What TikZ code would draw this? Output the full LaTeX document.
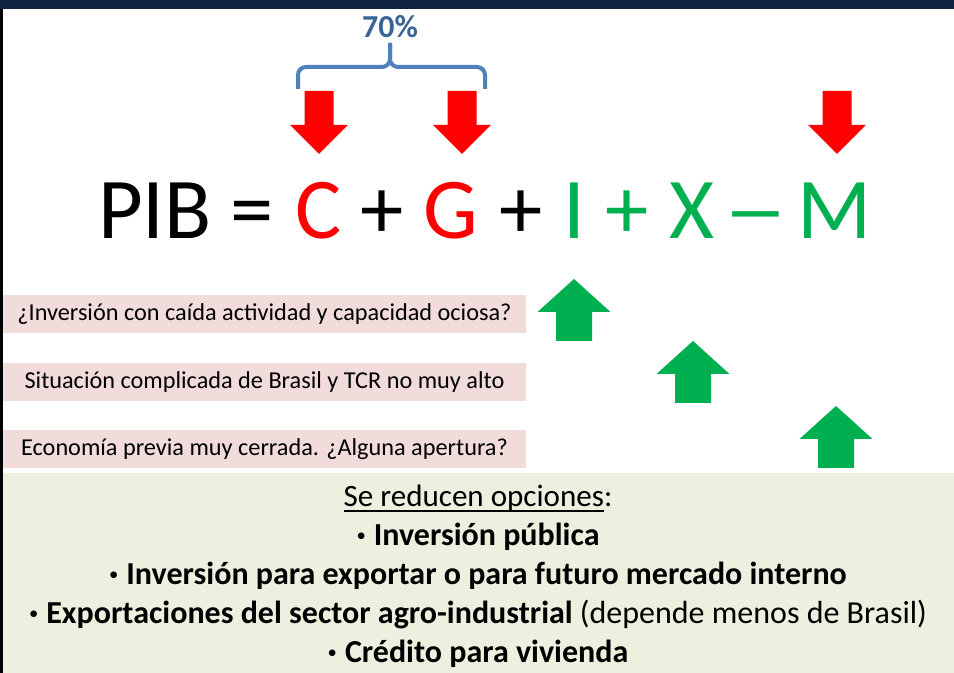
\documentclass[tikz,border=0pt]{standalone}
\usepackage{fontspec}
\usepackage{graphicx}
\setmainfont{Carlito}
\usetikzlibrary{positioning}
\definecolor{navy}{HTML}{10243F}
\definecolor{qpink}{HTML}{F2DCDB}
\definecolor{optgreen}{HTML}{EBF1DE}
\definecolor{arrred}{HTML}{FF0000}
\definecolor{arrgreen}{HTML}{00B050}
\definecolor{braceblue}{HTML}{4F81BD}
\definecolor{pctblue}{HTML}{3A6496}
\newcommand{\uln}[1]{\setbox0=\hbox{#1}\rlap{\rule[-3.6pt]{\wd0}{1.2pt}}\box0}
\newcommand{\optbullet}{\raisebox{3.3pt}{\fontsize{14}{14}\selectfont•}\hspace{0.25em}}

\begin{document}
\begin{tikzpicture}[x=0.75pt, y=0.75pt, node distance=29.25pt, on grid,
    term/.style={anchor=base, inner sep=0, font=\fontsize{65}{70}\selectfont},
    qbox/.style={fill=qpink, minimum width=392.25pt, minimum height=28.5pt, inner sep=0, font=\fontsize{18.2}{22}\selectfont},
    optline/.style={inner sep=0, text height=16pt, text depth=6pt, font=\fontsize{24}{28}\selectfont},
    brace/.style={draw=braceblue, line width=3pt, rounded corners=6pt},
    downarrow/.pic={\fill[arrred] (-14.5,0) -- (14.5,0) -- (14.5,-34) -- (29,-34) -- (0,-63) -- (-29,-34) -- (-14.5,-34) -- cycle;},
    uparrow/.pic={\fill[arrgreen] (0,0) -- (36.5,-33) -- (18,-33) -- (18,-62) -- (-18,-62) -- (-18,-33) -- (-36.5,-33) -- cycle;}]

   \useasboundingbox (0,0) rectangle (954,673);
   \fill[optgreen] (3,0) rectangle (954,200);
   \fill[navy] (0,664) rectangle (954,673);
   \fill[black] (0,0) rectangle (2.5,664);

   % PIB = C + G + I + X - M
   \node[term] (pib) at (155,434) {PIB};
   \node[term] (eq) at (252,434) {=};
   \node[term, text=arrred] (C) at (319,434) {C};
   \node[term] (plusA) at (382,434) {+};
   \node[term, text=arrred] (G) at (451,434) {G};
   \node[term] (plusB) at (521,434) {+};
   \node[term, text=arrgreen] (I) at (574,434) {I};
   \node[term, text=arrgreen] (plusC) at (627,434) {+};
   \node[term, text=arrgreen] (X) at (692,434) {X};
   \node[term, text=arrgreen] (minus) at (756,434) {\scalebox{1.5}[1]{–}};
   \node[term, text=arrgreen] (M) at (835,434) {M};

   % 70% brace over C and G
   \draw[brace] (298,584) |- (390,606) -- (390,630);
   \draw[brace] (485,584) |- (390,606) -- (390,630);
   \node[anchor=base, inner sep=0, text=pctblue, font=\fontsize{24}{28}\selectfont\bfseries] (pct) at (390,635) {70\%};

   \pic at (319,582) {downarrow};
   \pic at (462,582) {downarrow};
   \pic at (837,582) {downarrow};

   \pic at (574,394) {uparrow};
   \pic at (693,332) {uparrow};
   \pic at (836,267) {uparrow};

   % preguntas
   \node[qbox] (q1) at (264.5,359) {¿Inversión con caída actividad y capacidad ociosa?};
   \node[qbox] (q2) at (264.5,290.5) {Situación complicada de Brasil y TCR no muy alto};
   \node[qbox] (q3) at (264.5,223.5) {Economía previa muy cerrada. ¿Alguna apertura?};

   % opciones
   \node[optline, anchor=base, font=\fontsize{23.3}{28}\selectfont] (opt0) at (478,166) {\uln{Se reducen opciones}:};
   \node[optline, below=of opt0] (opt1) {\optbullet\textbf{Inversión pública}};
   \node[optline, below=of opt1] (opt2) {\optbullet\textbf{Inversión para exportar o para futuro mercado interno}};
   \node[optline, below=of opt2] (opt3) {\optbullet\textbf{Exportaciones del sector agro-industrial} (depende menos de Brasil)};
   \node[optline, below=of opt3] (opt4) {\optbullet\textbf{Crédito para vivienda}};
\end{tikzpicture}
\end{document}
